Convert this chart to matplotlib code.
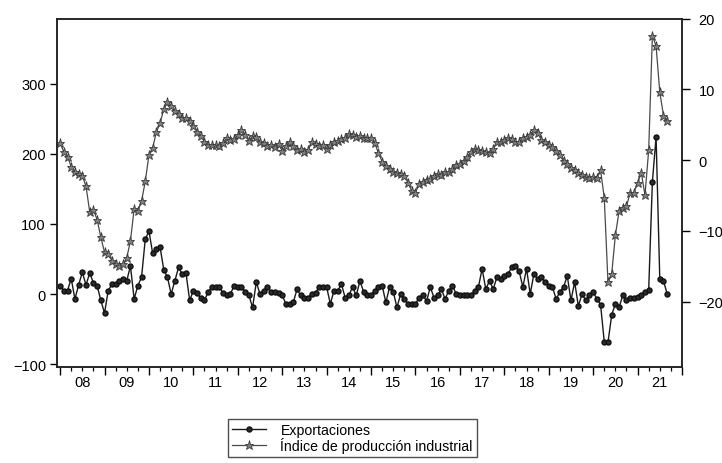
import matplotlib.pyplot as plt
from matplotlib.ticker import FixedLocator, FuncFormatter
import numpy as np

plt.rcParams['font.family'] = ['Liberation Sans', 'DejaVu Sans']

start_year = 2008
year_labels = ['08', '09', '10', '11', '12', '13', '14',
               '15', '16', '17', '18', '19', '20', '21']

# monthly series, Jan 2008 - Sep 2021
exportaciones = [
    12, 5, 5, 22, -7, 13, 31, 13, 30, 16, 12, -9,          # 2008
    -27, 5, 14, 14, 19, 21, 19, 40, -7, 12, 24, 78,        # 2009
    90, 58, 64, 67, 35, 24, 0, 19, 38, 28, 30, -9,         # 2010
    5, 1, -6, -9, 3, 10, 10, 10, 2, -2, 0, 12,             # 2011
    10, 10, 3, -2, -19, 17, 0, 5, 10, 3, 3, 1,             # 2012
    -2, -14, -14, -12, 7, -2, -5, -5, 0, 2, 10, 10,        # 2013
    10, -14, 5, 5, 14, -5, -2, 10, -2, 19, 3, -2,          # 2014
    -2, 5, 10, 12, -12, 10, 3, -19, 0, -7, -14, -14,       # 2015
    -14, -5, -2, -10, 10, -5, -2, 7, -7, 5, 12, 0,         # 2016
    -2, -2, -2, -2, 5, 10, 36, 7, 19, 7, 24, 22,           # 2017
    26, 29, 38, 40, 33, 10, 36, 0, 29, 21, 24, 17,         # 2018
    12, 10, -7, 3, 10, 26, -9, 17, -17, 0, -9, -2,         # 2019
    3, -7, -15, -68, -69, -30, -14, -19, -2, -9, -5, -5,   # 2020
    -4, -2, 3, 6, 160, 224, 21, 19, 0,                     # 2021
]

produccion = [
    2.4, 1.2, 0.5, -0.9, -1.6, -1.9, -2.2, -3.7, -7.3, -7.0, -8.4, -10.9,      # 2008
    -13.0, -13.3, -14.2, -14.6, -14.9, -14.7, -13.8, -11.4, -6.9, -7.2, -5.8, -3.0,  # 2009
    0.7, 1.7, 4.0, 5.2, 7.2, 8.2, 7.6, 7.0, 6.5, 6.0, 5.9, 5.6,                # 2010
    4.8, 4.0, 3.4, 2.6, 2.1, 2.1, 2.2, 2.0, 2.4, 3.1, 2.8, 3.0,                # 2011
    3.5, 4.2, 3.6, 2.7, 3.4, 3.3, 2.5, 2.4, 2.0, 2.2, 1.9, 2.3,                # 2012
    1.3, 2.0, 2.6, 2.0, 1.4, 1.6, 1.2, 1.4, 2.6, 2.3, 2.0, 2.2,                # 2013
    1.6, 2.1, 2.5, 2.7, 3.0, 3.2, 3.7, 3.6, 3.3, 3.4, 3.1, 3.2,                # 2014
    3.2, 2.4, 1.0, -0.2, -0.8, -1.3, -1.7, -1.8, -2.0, -2.3, -3.2, -4.4,       # 2015
    -4.6, -3.3, -3.1, -2.8, -2.6, -2.2, -2.0, -2.1, -1.7, -1.6, -1.2, -0.7,    # 2016
    -0.6, -0.1, 0.5, 1.1, 1.6, 1.5, 1.3, 1.2, 1.0, 1.6, 2.5, 2.6,              # 2017
    2.8, 3.1, 3.0, 2.6, 2.5, 3.2, 3.3, 3.6, 4.2, 3.9, 2.8, 2.6,                # 2018
    2.2, 1.8, 1.3, 0.7, -0.1, -0.5, -1.1, -1.4, -1.8, -2.1, -2.4, -2.5,        # 2019
    -2.4, -2.5, -1.4, -5.3, -17.2, -16.1, -10.6, -7.2, -6.7, -6.5, -4.6, -4.6,  # 2020
    -3.2, -1.8, -4.9, 1.4, 17.6, 16.1, 9.6, 6.3, 5.6,                          # 2021
]

fechas = start_year + np.arange(len(exportaciones)) / 12

fig = plt.figure(figsize=(7.22, 4.64), dpi=100)
ax = fig.add_axes([57 / 722, 96 / 464, 625 / 722, 348.5 / 464])
ax2 = ax.twinx()

l1, = ax.plot(fechas, exportaciones, color='#1a1a1a', linewidth=1.0,
              marker='o', markersize=3.6, markerfacecolor='#2a2a2a',
              markeredgecolor='#111111', label='Exportaciones')
l2, = ax2.plot(fechas, produccion, color='#4a4a4a', linewidth=0.9,
               marker='*', markersize=6.5, markerfacecolor='#808080',
               markeredgecolor='#3a3a3a', markeredgewidth=0.6,
               label='Índice de producción industrial')

ax.set_xlim(2007.93, 2022.0)
ax.set_ylim(-104, 393)
ax2.set_ylim(-29.2, 19.9)

ax.set_yticks([-100, 0, 100, 200, 300])
ax2.set_yticks([-20, -10, 0, 10, 20])

# year boundaries as long ticks, quarters as short ones, labels in mid-year
years = np.arange(start_year, start_year + len(year_labels) + 1)
quarters = np.arange(start_year, start_year + len(year_labels), 0.25)
ax.xaxis.set_major_locator(FixedLocator(years))
ax.xaxis.set_minor_locator(FixedLocator(quarters))
ax.xaxis.set_major_formatter(FuncFormatter(lambda v, p: ''))


def mid_year_label(v, pos):
    k = v - start_year - 0.5
    if abs(k - round(k)) < 1e-6 and 0 <= round(k) < len(year_labels):
        return year_labels[int(round(k))]
    return ''


ax.xaxis.set_minor_formatter(FuncFormatter(mid_year_label))

ax.tick_params(axis='x', which='major', direction='out', length=6, width=1)
ax.tick_params(axis='x', which='minor', direction='out', length=3, width=0.9,
               labelsize=10.5, pad=3)
ax.tick_params(axis='y', direction='out', length=5, width=1, labelsize=10.5, pad=3)
ax2.tick_params(axis='y', direction='out', length=6, width=1, labelsize=10.5, pad=6)

for a in (ax, ax2):
    for s in a.spines.values():
        s.set_linewidth(1.1)
        s.set_color('#222222')

leg = fig.legend(handles=[l1, l2], loc='upper left',
                 bbox_to_anchor=(228 / 722, 1 - 420 / 464), borderaxespad=0,
                 fontsize=10.2, frameon=True, fancybox=False,
                 edgecolor='#222222', handlelength=2.4, handletextpad=1.0,
                 borderpad=0.3, labelspacing=-0.05, markerscale=1.0)
leg.get_frame().set_linewidth(1.0)

fig.savefig('out.png', dpi=100)
